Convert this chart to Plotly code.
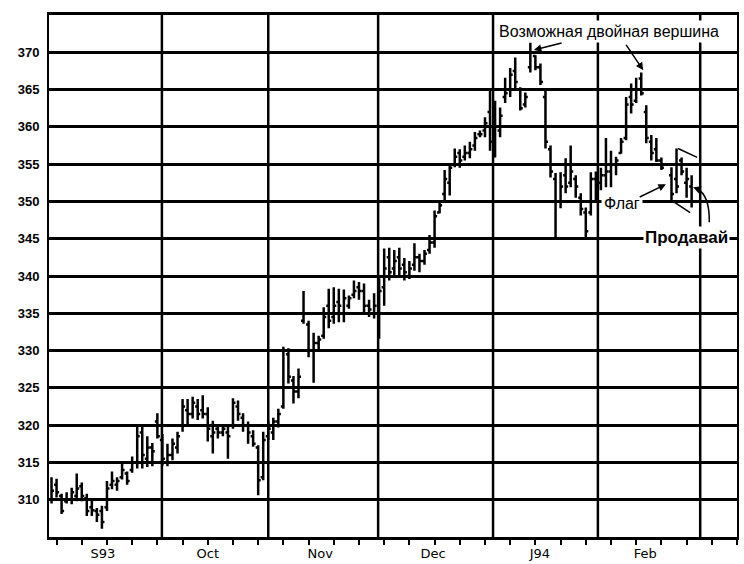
import plotly.graph_objects as go

# trading-day index (one gap = exchange holiday)
day = list(range(0, 122)) + list(range(123, 128))

high = [313.0, 312.8, 310.8, 311.0, 311.6, 313.5, 312.3, 310.8, 310.2, 308.9,
        309.2, 312.5, 313.8, 313.0, 315.0, 313.8, 315.8, 319.8, 320.0, 318.5,
        317.6, 321.6, 318.8, 317.5, 318.2, 319.1, 323.5, 323.5, 323.8, 323.5,
        324.0, 322.4, 320.6, 320.0, 320.0, 319.8, 323.6, 323.3, 321.6, 320.5,
        319.3, 317.3, 319.1, 320.6, 321.0, 322.2, 330.5, 330.3, 326.6, 327.6,
        338.0, 334.0, 332.4, 332.0, 335.8, 338.3, 338.5, 338.3, 338.2, 337.4,
        339.4, 339.2, 339.0, 336.8, 337.7, 339.7, 343.7, 343.8, 343.5, 343.8,
        342.4, 342.0, 344.4, 343.0, 343.5, 345.5, 348.8, 350.0, 354.2, 355.0,
        357.1, 357.0, 357.5, 358.0, 359.3, 359.5, 361.3, 365.0, 363.5, 362.6,
        366.6, 367.9, 369.3, 365.3, 364.6, 371.3, 369.6, 368.5, 364.9, 357.5,
        353.8, 353.9, 355.8, 357.5, 353.5, 351.1, 349.2, 353.9, 354.0, 354.5,
        358.5, 356.8, 356.0, 358.5, 364.0, 365.8, 366.6, 367.3, 362.9, 358.9,
        358.5, 355.9, 354.6, 357.1, 355.9, 354.5, 353.5]

low = [309.5, 310.3, 308.1, 309.5, 309.4, 309.8, 309.8, 307.8, 307.8, 307.0,
       306.1, 308.5, 311.4, 311.2, 312.7, 312.0, 313.6, 314.2, 314.2, 314.4,
       314.5, 318.2, 314.6, 314.5, 315.3, 316.2, 319.1, 320.0, 320.9, 320.7,
       320.9, 317.8, 316.2, 318.2, 318.5, 315.5, 319.5, 320.6, 319.1, 317.5,
       317.1, 310.6, 312.6, 318.0, 318.0, 319.7, 322.2, 325.6, 322.9, 323.6,
       333.6, 329.1, 325.7, 329.8, 331.6, 333.0, 333.6, 333.8, 333.8, 335.6,
       337.0, 336.8, 335.0, 334.5, 334.3, 331.6, 336.0, 339.4, 339.8, 339.8,
       339.4, 339.6, 340.7, 340.5, 341.5, 343.0, 343.8, 348.4, 350.0, 350.8,
       354.6, 354.5, 355.5, 355.8, 356.8, 358.6, 358.6, 356.8, 355.9, 358.6,
       363.2, 364.0, 365.2, 362.2, 362.6, 367.3, 367.6, 365.6, 357.1, 353.2,
       345.2, 349.1, 351.1, 351.9, 350.5, 348.1, 345.2, 348.1, 350.0, 351.5,
       351.9, 351.9, 353.5, 356.4, 358.2, 361.8, 363.2, 364.2, 357.8, 355.5,
       355.3, 354.2, 349.9, 351.1, 353.5, 350.5, 349.2]

close = [311.2, 311.0, 308.5, 310.0, 311.0, 311.5, 310.5, 308.5, 308.6, 308.0,
         307.0, 311.5, 312.5, 312.5, 314.0, 312.5, 315.0, 318.5, 316.0, 317.0,
         316.5, 318.5, 315.5, 316.0, 317.5, 318.5, 322.5, 321.5, 323.0, 321.5,
         321.5, 319.5, 319.0, 319.0, 319.5, 318.5, 323.0, 321.5, 320.0, 319.0,
         317.5, 312.6, 318.0, 319.5, 320.5, 321.5, 330.0, 326.5, 324.5, 326.5,
         335.0, 330.0, 331.0, 331.5, 334.5, 334.0, 336.0, 336.0, 337.0, 337.0,
         338.0, 338.0, 336.0, 335.5, 336.0, 338.0, 341.0, 340.5, 342.0, 341.0,
         340.5, 341.0, 342.5, 342.0, 343.0, 344.5, 348.0, 349.5, 353.0, 354.5,
         356.0, 355.5, 356.5, 357.0, 358.5, 359.0, 360.5, 358.0, 360.0, 361.5,
         364.5, 367.0, 366.0, 362.5, 364.0, 370.0, 368.0, 366.0, 358.0, 354.0,
         350.0, 352.0, 352.0, 354.0, 352.0, 349.0, 346.0, 353.0, 352.5, 353.5,
         354.0, 355.0, 355.5, 358.0, 363.0, 363.0, 365.0, 364.5, 358.5, 356.5,
         355.5, 354.5, 351.0, 352.0, 354.0, 353.0, 350.0]

opens = [310.0, 312.0, 310.5, 309.8, 310.0, 310.5, 311.8, 310.2, 309.0, 308.5,
         308.5, 309.0, 312.0, 312.0, 313.0, 313.5, 314.0, 315.0, 319.0, 315.5,
         317.0, 320.5, 318.0, 315.0, 316.0, 317.0, 320.0, 322.0, 321.5, 322.5,
         322.0, 321.5, 318.5, 319.5, 319.0, 319.0, 320.0, 322.5, 321.0, 320.0,
         318.5, 317.0, 313.0, 318.5, 319.0, 320.5, 322.5, 329.5, 326.0, 324.5,
         334.0, 333.5, 330.0, 331.0, 332.0, 336.0, 334.5, 336.5, 335.0, 336.0,
         337.5, 338.5, 338.0, 336.0, 335.0, 335.0, 338.5, 342.5, 341.0, 342.5,
         341.5, 340.0, 341.5, 342.5, 342.0, 343.5, 344.5, 348.5, 351.0, 352.5,
         355.0, 356.5, 356.0, 356.5, 357.5, 359.0, 359.5, 362.0, 358.5, 359.5,
         364.0, 365.0, 367.5, 365.0, 363.0, 368.0, 369.5, 368.0, 364.0, 357.0,
         353.0, 350.0, 353.5, 352.5, 353.0, 350.5, 348.5, 348.5, 353.0, 352.5,
         353.5, 354.0, 355.0, 356.5, 358.5, 364.0, 363.5, 366.5, 362.0, 358.0,
         357.0, 355.5, 353.5, 353.0, 355.5, 352.5, 352.0]

price_ticks = [310, 315, 320, 325, 330, 335, 340, 345, 350, 355, 360, 365, 370]
month_labels = ["S93", "Oct", "Nov", "Dec", "J94", "Feb"]
month_centers = [10.2, 31.0, 53.3, 75.7, 96.9, 117.8]
month_bounds = [21.9, 43.0, 64.8, 87.6, 108.4, 128.7]

# flag pattern boundary lines (day, price)
flag_top = [(124.3, 357.1), (128.1, 355.9)]
flag_bottom = [(123.1, 350.1), (126.7, 348.5)]

fig = go.Figure(go.Ohlc(
    x=day, open=opens, high=high, low=low, close=close,
    increasing=dict(line=dict(color="black", width=2.5)),
    decreasing=dict(line=dict(color="black", width=2.5)),
    tickwidth=0.5, hoverinfo="skip",
))

shapes = []
for b in month_bounds:
    shapes.append(dict(type="line", xref="x", yref="paper", x0=b, x1=b, y0=0, y1=1,
                       line=dict(color="black", width=2.5), layer="below"))
for seg in (flag_top, flag_bottom):
    shapes.append(dict(type="line", xref="x", yref="y",
                       x0=seg[0][0], y0=seg[0][1], x1=seg[1][0], y1=seg[1][1],
                       line=dict(color="black", width=1.5)))
# curved "sell" arrow shaft
shapes.append(dict(type="path", xref="x", yref="y",
                   path="M 130.5,347.2 Q 130.6,350.8 128.1,351.7",
                   line=dict(color="black", width=1.5)))
fig.update_layout(shapes=shapes)

txt = dict(family="Liberation Sans, Arial, sans-serif", color="black")
arrow = dict(xref="x", yref="y", axref="x", ayref="y", text="", showarrow=True,
             arrowhead=2, arrowsize=1, arrowwidth=1.5, arrowcolor="black")
annotations = [
    dict(x=110.7, y=372.8, xref="x", yref="y", text="Возможная двойная вершина",
         showarrow=False, font=dict(size=16, **txt), bgcolor="white", borderpad=2),
    dict(x=95.7, y=370.3, ax=101.5, ay=371.3, **arrow),
    dict(x=117.4, y=367.6, ax=113.8, ay=371.2, **arrow),
    dict(x=113.2, y=349.7, xref="x", yref="y", text="Флаг",
         showarrow=False, font=dict(size=16, **txt), bgcolor="white", borderpad=2),
    dict(x=121.9, y=352.3, ax=116.4, ay=350.5, **arrow),
    dict(x=127.3, y=351.9, ax=128.1, ay=351.7, **arrow),
    dict(x=125.9, y=345.2, xref="x", yref="y", text="<b>Продавай</b>",
         showarrow=False, font=dict(size=17, **txt), bgcolor="white", borderpad=1),
]
fig.update_layout(annotations=annotations)

fig.update_layout(
    width=744, height=564,
    margin=dict(l=49, r=7, t=15, b=27, autoexpand=False),
    paper_bgcolor="white", plot_bgcolor="white",
    showlegend=False,
    xaxis=dict(
        range=[-0.5, 136.0], rangeslider=dict(visible=False), automargin=False,
        tickmode="array", tickvals=month_centers, ticktext=month_labels,
        ticks="", showgrid=False, zeroline=False,
        showline=True, linecolor="black", linewidth=3, mirror=True,
        tickfont=dict(family="DejaVu Sans, sans-serif", size=13, color="black"),
        ticklabelstandoff=2,
        minor=dict(tickmode="linear", tick0=6, dtick=5, ticks="outside",
                   ticklen=5, tickwidth=1.5, tickcolor="black", showgrid=False),
    ),
    yaxis=dict(
        range=[305, 375], tickmode="array", tickvals=price_ticks, automargin=False,
        ticks="", showgrid=True, gridcolor="black", gridwidth=2.5, zeroline=False,
        showline=True, linecolor="black", linewidth=2, mirror=True,
        tickfont=dict(family="Liberation Sans, Arial, sans-serif", size=13,
                      color="black", weight="bold"),
        ticklabelstandoff=5,
    ),
)

fig.write_html("out.html", config={"displayModeBar": False},
               post_script="document.body.style.margin='0px';")
